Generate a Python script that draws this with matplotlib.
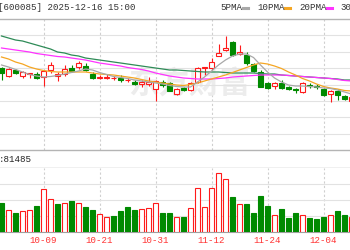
import numpy as np
import matplotlib.pyplot as plt
from matplotlib.lines import Line2D
from matplotlib.transforms import blended_transform_factory

plt.rcParams['font.family'] = ['Liberation Mono', 'Noto Sans CJK SC', 'DejaVu Sans']

# 600085 日K (09-23 ~ 12-11 可见部分)
opens = [40.53, 40.29, 40.47, 40.29, 40.35, 40.35, 40.26, 40.47, 40.29, 40.35,
         40.53, 40.56, 40.59, 40.35, 40.245, 40.245, 40.215, 40.23, 40.155, 40.11,
         40.05, 40.05, 39.90, 40.11, 40.08, 39.75, 39.93, 39.87, 40.11, 40.53,
         40.53, 40.89, 41.07, 41.31, 40.95, 40.92, 40.65, 40.41, 40.08, 39.99,
         40.08, 39.96, 39.90, 39.81, 40.005, 39.99, 39.90, 39.75, 39.84, 39.69, 39.54]
highs = [40.56, 40.53, 40.50, 40.44, 40.38, 40.41, 40.47, 40.71, 40.41, 40.62,
         40.62, 40.74, 40.68, 40.41, 40.32, 40.35, 40.29, 40.32, 40.23, 40.17,
         40.17, 40.26, 40.17, 40.17, 40.11, 39.93, 39.96, 40.11, 40.56, 40.56,
         40.83, 41.25, 41.49, 41.34, 41.22, 41.01, 40.68, 40.47, 40.11, 40.11,
         40.17, 39.99, 39.93, 40.11, 40.08, 40.05, 39.93, 39.87, 39.90, 39.72, 39.69]
lows = [40.17, 40.26, 40.35, 40.23, 40.23, 40.20, 39.99, 40.38, 40.14, 40.29,
        40.41, 40.50, 40.44, 40.20, 40.20, 40.20, 40.17, 40.11, 40.11, 40.02,
        39.96, 39.99, 39.54, 39.96, 39.84, 39.72, 39.84, 39.84, 40.08, 40.32,
        40.47, 40.89, 41.04, 40.89, 40.92, 40.62, 40.41, 39.96, 39.90, 39.90,
        39.90, 39.87, 39.78, 39.78, 39.93, 39.90, 39.69, 39.51, 39.57, 39.57, 39.51]
closes = [40.38, 40.50, 40.38, 40.41, 40.38, 40.23, 40.44, 40.62, 40.35, 40.50,
          40.44, 40.68, 40.47, 40.23, 40.26, 40.26, 40.23, 40.17, 40.17, 40.05,
          40.11, 40.11, 40.14, 40.02, 39.84, 39.90, 39.885, 40.08, 40.53, 40.56,
          40.71, 40.98, 41.13, 40.92, 41.01, 40.68, 40.44, 39.96, 39.93, 40.08,
          39.93, 39.90, 39.87, 40.08, 39.975, 39.96, 39.72, 39.84, 39.72, 39.60, 39.66]

ma5 = [40.62, 40.56, 40.485, 40.41, 40.335, 40.29, 40.26, 40.275, 40.305, 40.35,
       40.395, 40.44, 40.50, 40.47, 40.395, 40.335, 40.275, 40.245, 40.215, 40.17,
       40.14, 40.11, 40.08, 40.05, 40.005, 39.975, 39.96, 39.96, 40.11, 40.26,
       40.44, 40.62, 40.77, 40.89, 40.95, 40.95, 40.845, 40.62, 40.41, 40.23,
       40.11, 40.02, 39.99, 39.99, 39.975, 39.96, 39.93, 39.915, 39.87, 39.81, 39.75]
ma10 = [40.86, 40.80, 40.71, 40.65, 40.56, 40.50, 40.455, 40.425, 40.41, 40.41,
        40.41, 40.41, 40.41, 40.38, 40.35, 40.335, 40.32, 40.29, 40.26, 40.23,
        40.185, 40.14, 40.11, 40.08, 40.05, 40.02, 40.005, 40.035, 40.08, 40.14,
        40.20, 40.26, 40.32, 40.395, 40.47, 40.545, 40.62, 40.68, 40.65, 40.59,
        40.515, 40.41, 40.32, 40.215, 40.14, 40.05, 39.975, 39.93, 39.90, 39.855, 39.84]
ma20 = [41.13, 41.10, 41.07, 41.04, 41.01, 40.965, 40.935, 40.905, 40.875, 40.86,
        40.83, 40.80, 40.77, 40.725, 40.68, 40.65, 40.62, 40.59, 40.545, 40.515,
        40.485, 40.44, 40.38, 40.335, 40.29, 40.26, 40.23, 40.215, 40.20, 40.20,
        40.20, 40.215, 40.23, 40.26, 40.275, 40.29, 40.305, 40.32, 40.32, 40.32,
        40.32, 40.305, 40.29, 40.275, 40.26, 40.245, 40.23, 40.215, 40.185, 40.155, 40.14]
ma30 = [41.49, 41.43, 41.37, 41.34, 41.28, 41.22, 41.16, 41.10, 41.01, 40.98,
        40.92, 40.89, 40.83, 40.80, 40.77, 40.74, 40.71, 40.68, 40.65, 40.62,
        40.59, 40.56, 40.53, 40.50, 40.47, 40.47, 40.455, 40.44, 40.425, 40.41,
        40.41, 40.41, 40.395, 40.38, 40.38, 40.38, 40.38, 40.365, 40.35, 40.35,
        40.32, 40.305, 40.29, 40.275, 40.26, 40.245, 40.23, 40.215, 40.20, 40.17, 40.17]

volumes = [36900, 28000, 24200, 26700, 28000, 33100, 54700, 42000, 35600, 36900,
           39500, 36900, 31800, 28000, 22900, 19100, 20400, 26700, 31800, 28000,
           29300, 30600, 36900, 24200, 24200, 19100, 19100, 30600, 56000, 31800,
           56000, 75100, 67500, 44600, 35600, 35600, 24200, 45800, 33100, 21600,
           29300, 17800, 24200, 21600, 17800, 16500, 19100, 21600, 26700, 21600, 19100]
vol_up = [0, 1, 0, 1, 1, 0, 1, 1, 0, 1, 0, 1, 0, 0, 1, 1, 0, 0, 0, 0,
          1, 1, 1, 0, 0, 1, 0, 1, 1, 1, 1, 1, 1, 0, 1, 0, 0, 0, 0, 1,
          0, 0, 0, 1, 0, 0, 0, 1, 0, 0, 1]

date_pos = [-2, 6, 14, 22, 30, 38, 46]
date_labels = ['09-19', '10-09', '10-21', '10-31', '11-12', '11-24', '12-04']
title = '[600085] 2025-12-16 15:00'
vol_max = 81485

RED = '#ff1a1a'
GREEN = '#008a00'
GRID = '#e2e2e2'
BORDER = '#b4b4b4'

W, H = 350, 250
def box(top, bottom):
    return [0, 1 - bottom / H, 1, (bottom - top) / H]

fig = plt.figure(figsize=(3.5, 2.5), dpi=100)
ax = fig.add_axes(box(19, 150))
axh = fig.add_axes(box(150, 168))
axv = fig.add_axes(box(168, 232))

x = np.arange(len(closes))
xlim = (-1.5 / 7, 348.5 / 7)

# ---- price panel
ax.set_xlim(*xlim)
ax.set_ylim(38.07, 42.0)
ax.set_yticks(np.linspace(38.07, 42.0, 9)[1:-1])
ax.set_xticks([])
ax.tick_params(left=False, labelleft=False)
ax.grid(axis='y', color=GRID, lw=0.8)
for s in ['left', 'right', 'bottom']:
    ax.spines[s].set_visible(False)
ax.spines['top'].set_color(BORDER)
ax.spines['top'].set_linewidth(1)
for p in date_pos:
    ax.axvline(p, color='#cfcfcf', lw=0.8, ls=(0, (2, 2)), zorder=0.5)

ax.text(0.54, 0.51, '东方财富', transform=ax.transAxes, ha='center', va='center',
        fontsize=22, fontweight='bold', color='#ececec', style='italic',
        family=['Noto Sans CJK SC'], zorder=1)

o = np.array(opens); c = np.array(closes)
up = c >= o
ax.vlines(x, lows, highs, colors=[RED if u else GREEN for u in up], lw=0.8, zorder=2)
body_h = np.maximum(np.abs(c - o), 0.004)
ax.bar(x, body_h, bottom=np.minimum(o, c), width=0.6,
       facecolor=['white' if u else GREEN for u in up],
       edgecolor=[RED if u else GREEN for u in up], lw=0.8, zorder=3)

ax.plot(x, ma30, color='#2e8b57', lw=0.9, zorder=4)
ax.plot(x, ma20, color='#ff33ff', lw=0.9, zorder=4)
ax.plot(x, ma10, color='#f5a623', lw=0.9, zorder=4)
ax.plot(x, ma5, color='#a8a8a8', lw=0.9, zorder=4)

# ---- volume header band
axh.set_xticks([]); axh.set_yticks([])
for s in ['left', 'right']:
    axh.spines[s].set_visible(False)
for s in ['top', 'bottom']:
    axh.spines[s].set_color(BORDER)
    axh.spines[s].set_linewidth(1)
axh.text(-0.004, 0.45, ':%d' % vol_max, transform=axh.transAxes, ha='left', va='center',
         fontsize=6.6, color='#222222')

# ---- volume panel
axv.set_xlim(*xlim)
axv.set_ylim(0, vol_max)
axv.set_yticks(np.linspace(0, vol_max, 5)[1:-1])
axv.set_xticks([])
axv.tick_params(left=False, labelleft=False)
axv.grid(axis='y', color=GRID, lw=0.8)
for s in ['left', 'right', 'top']:
    axv.spines[s].set_visible(False)
axv.spines['bottom'].set_color('#a0a0a0')
for p in date_pos:
    axv.axvline(p, color='#cfcfcf', lw=0.8, ls=(0, (2, 2)), zorder=0.5)
axv.bar(x, volumes, width=0.6,
        facecolor=['white' if u else GREEN for u in vol_up],
        edgecolor=[RED if u else GREEN for u in vol_up], lw=0.8, zorder=3)

tr = blended_transform_factory(axv.transData, axv.transAxes)
for p, lab in zip(date_pos, date_labels):
    axv.text(p, -0.14, lab, transform=tr, ha='center', va='center',
             fontsize=6.6, color='#ff3333', clip_on=False)

# ---- top row: title + legend
fig.text(-2 / W, 1 - 7.5 / H, title, ha='left', va='center', fontsize=6.6, color='#333333')
legend = [('5PMA', '#a8a8a8', 220), ('10PMA', '#f5a623', 257), ('20PMA', '#ff33ff', 299),
          ('30PMA', '#2e8b57', 340)]
for lab, col, xs in legend:
    t = fig.text(xs / W, 1 - 7.5 / H, lab, ha='left', va='center', fontsize=6.6, color='#333333')
    xe = xs + 5.3 * len(lab) + 1.5
    fig.add_artist(Line2D([xe / W, (xe + 5) / W], [1 - 8 / H, 1 - 8 / H],
                          transform=fig.transFigure, color=col, lw=2.2))

fig.savefig('out.png', dpi=100)
